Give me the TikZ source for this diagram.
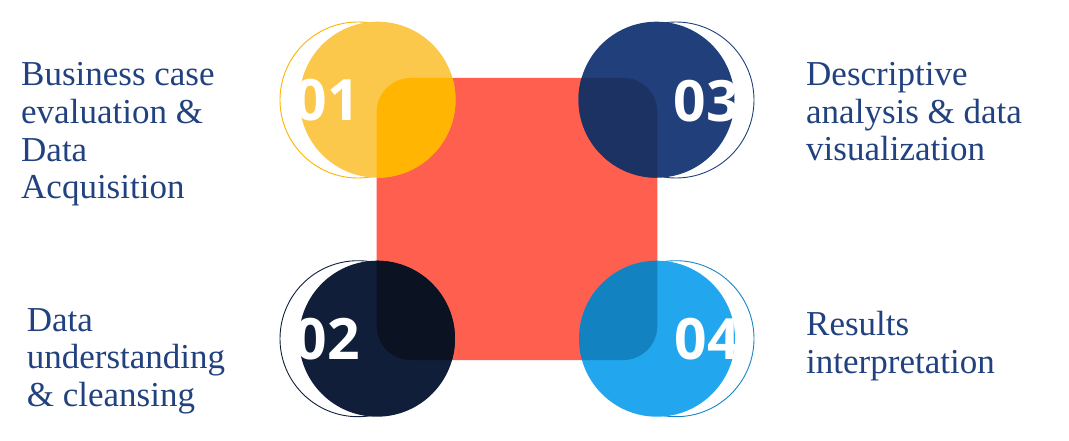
\documentclass[tikz,border=0pt]{standalone}
\usepackage{fontspec}
\newfontfamily\lblfont{LiberationSerif}[Extension=.ttf, UprightFont=*-Regular]
\newfontfamily\numfont{Open Sans}
\definecolor{redsq}{HTML}{FF5F4F}
\definecolor{txtblue}{HTML}{21417F}
\definecolor{yelL}{HTML}{FCC84B}
\definecolor{yelD}{HTML}{FFB502}
\definecolor{yelO}{HTML}{FFB400}
\definecolor{navL}{HTML}{203F7B}
\definecolor{navD}{HTML}{1B3262}
\definecolor{drkL}{HTML}{111E3A}
\definecolor{drkD}{HTML}{0B1222}
\definecolor{bluL}{HTML}{22A6EE}
\definecolor{bluD}{HTML}{1282C1}
\definecolor{bluO}{HTML}{1A84C6}
\tikzset{
  lbl/.style={anchor=base west, inner sep=0pt, text=txtblue, font=\lblfont\fontsize{35}{37.5}\selectfont},
  num/.style={inner sep=0pt, text=white, font=\numfont\bfseries\fontsize{57}{60}\selectfont},
  ring/.style={line width=0.9pt}
}
\newcommand{\sqpath}{(376.7,78) rectangle (657.3,360)}
\begin{document}
\begin{tikzpicture}[x=1pt,y=-1pt]
\useasboundingbox (0,0) rectangle (1069,441);
% central rounded square
\fill[redsq, rounded corners=34pt] \sqpath;
% outline rings
\draw[ring, yelO] (358,100) circle[radius=78];
\draw[ring, navL] (676,100) circle[radius=78];
\draw[ring, drkL] (358,338.7) circle[radius=78];
\draw[ring, bluO] (676,338.7) circle[radius=78];
% filled circles
\node[circle, fill=yelL, minimum size=156pt, inner sep=0pt] (c1) at (377.5,99.7) {};
\node[circle, fill=navL, minimum size=156pt, inner sep=0pt] (c3) at (656.5,99.7) {};
\node[circle, fill=drkL, minimum size=156pt, inner sep=0pt] (c2) at (377,338.7) {};
\node[circle, fill=bluL, minimum size=156pt, inner sep=0pt] (c4) at (657,338.7) {};
% overlaps
\begin{scope}
  \clip (377.5,99.7) circle[radius=78];
  \fill[yelD, rounded corners=34pt] \sqpath;
\end{scope}
\begin{scope}
  \clip (656.5,99.7) circle[radius=78];
  \fill[navD, rounded corners=34pt] \sqpath;
\end{scope}
\begin{scope}
  \clip (377,338.7) circle[radius=78];
  \fill[drkD, rounded corners=34pt] \sqpath;
\end{scope}
\begin{scope}
  \clip (657,338.7) circle[radius=78];
  \fill[bluD, rounded corners=34pt] \sqpath;
\end{scope}
% numbers
\node[num] (n1) at (327,100) {01};
\node[num] (n3) at (706,101.5) {03};
\node[num] (n2) at (327,339.5) {02};
\node[num] (n4) at (707,339) {04};
% labels
\node[lbl] (t1a) at (21,86) {Business case};
\node[lbl] (t1b) at (21,124) {evaluation \&};
\node[lbl] (t1c) at (21,161.7) {Data};
\node[lbl] (t1d) at (21,199) {Acquisition};
\node[lbl] (t3a) at (806,86) {Descriptive};
\node[lbl] (t3b) at (806,123.5) {analysis \& data};
\node[lbl] (t3c) at (806,161) {visualization};
\node[lbl] (t2a) at (26.7,331) {Data};
\node[lbl] (t2b) at (26.7,368.5) {understanding};
\node[lbl] (t2c) at (26.7,406) {\& cleansing};
\node[lbl] (t4a) at (806,335.7) {Results};
\node[lbl] (t4b) at (806,373.3) {interpretation};
\end{tikzpicture}
\end{document}
